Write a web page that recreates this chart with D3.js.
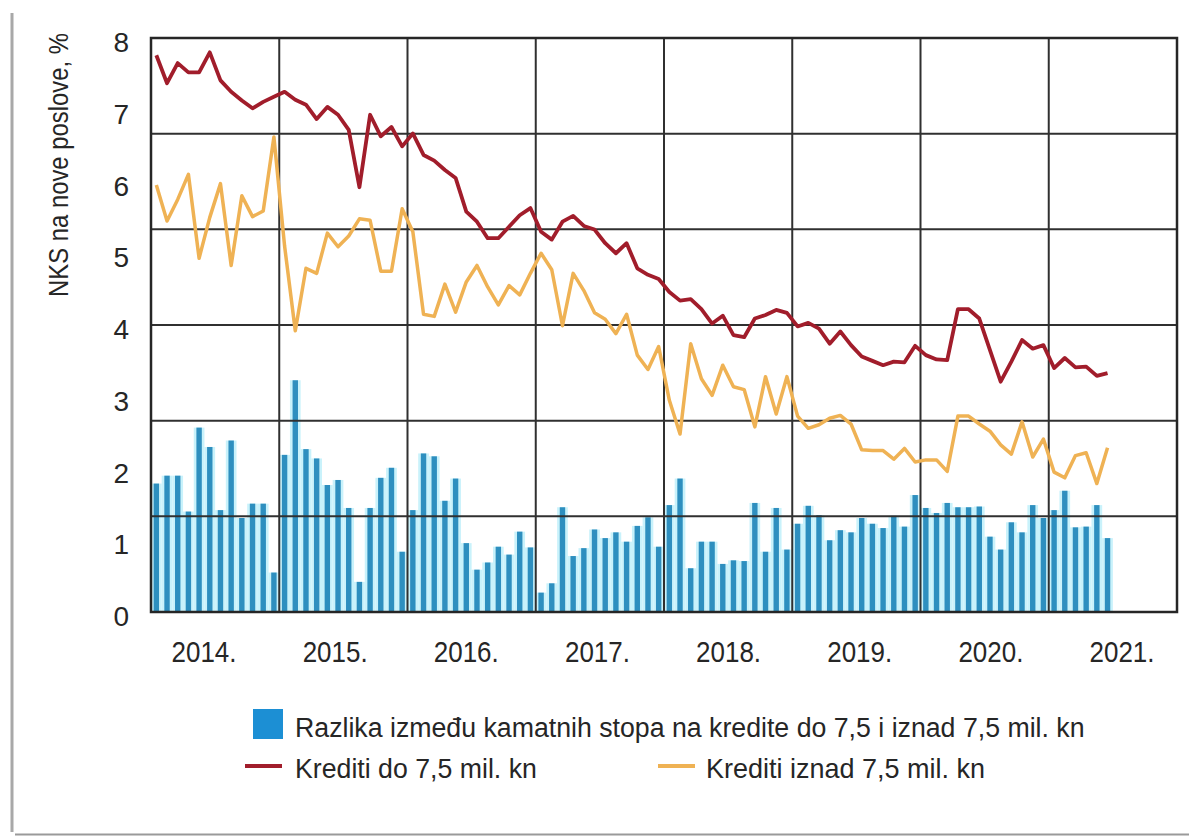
<!DOCTYPE html>
<html><head><meta charset="utf-8">
<script src="https://cdn.jsdelivr.net/npm/d3@7"></script>
<style>
body{margin:0;background:#fff}
svg{display:block}
text{font-family:"Liberation Sans",Arial,sans-serif;fill:#262626}
</style>
</head><body>
<svg id="chart" width="1189" height="836"></svg>
<script>
// ---- data ----
const years = ["2014.","2015.","2016.","2017.","2018.","2019.","2020.","2021."];
const yTicks = [0,1,2,3,4,5,6,7,8];
const yTitle = "NKS na nove poslove, %";
const legendLabels = [
  "Razlika između kamatnih stopa na kredite do 7,5 i iznad 7,5 mil. kn",
  "Krediti do 7,5 mil. kn",
  "Krediti iznad 7,5 mil. kn"
];
// monthly, Jan 2014 – Jun 2021
const razlika = [
 1.79,1.90,1.90,1.40,2.57,2.30,1.42,2.39,1.31,1.51,1.51,0.55,
 2.19,3.23,2.27,2.14,1.77,1.84,1.45,0.42,1.45,1.87,2.01,0.84,
 1.42,2.21,2.17,1.55,1.86,0.96,0.59,0.69,0.91,0.80,1.12,0.90,
 0.27,0.40,1.46,0.78,0.89,1.15,1.03,1.11,0.98,1.20,1.32,0.91,
 1.49,1.86,0.61,0.98,0.98,0.67,0.72,0.71,1.52,0.84,1.45,0.87,
 1.23,1.48,1.35,1.00,1.14,1.11,1.31,1.23,1.17,1.34,1.19,1.63,
 1.45,1.38,1.52,1.46,1.46,1.47,1.05,0.87,1.25,1.11,1.49,1.31,
 1.42,1.69,1.18,1.19,1.49,1.03
];
const kreditiDo = [
 7.76,7.37,7.65,7.52,7.52,7.80,7.41,7.25,7.13,7.02,7.11,7.18,
 7.25,7.14,7.07,6.87,7.04,6.93,6.72,5.92,6.93,6.63,6.76,6.49,
 6.67,6.37,6.29,6.16,6.05,5.58,5.44,5.21,5.21,5.37,5.53,5.63,
 5.30,5.19,5.44,5.52,5.38,5.33,5.14,5.00,5.14,4.79,4.70,4.64,
 4.46,4.34,4.36,4.22,4.02,4.13,3.86,3.83,4.09,4.14,4.21,4.17,
 3.98,4.03,3.95,3.74,3.91,3.72,3.56,3.50,3.44,3.49,3.48,3.71,
 3.58,3.52,3.51,4.22,4.22,4.09,3.65,3.21,3.49,3.79,3.67,3.72,
 3.40,3.54,3.41,3.42,3.29,3.33
];
const kreditiIznad = [
 5.95,5.45,5.75,6.10,4.93,5.50,5.97,4.83,5.80,5.51,5.59,6.62,
 5.10,3.92,4.79,4.72,5.28,5.09,5.24,5.48,5.46,4.75,4.75,5.62,
 5.30,4.15,4.12,4.57,4.18,4.60,4.83,4.53,4.28,4.55,4.42,4.72,
 5.00,4.77,3.99,4.72,4.48,4.17,4.08,3.88,4.15,3.58,3.38,3.70,
 2.95,2.48,3.74,3.25,3.02,3.44,3.14,3.10,2.58,3.28,2.76,3.28,
 2.73,2.56,2.61,2.70,2.74,2.62,2.26,2.25,2.25,2.13,2.28,2.09,
 2.12,2.12,1.96,2.73,2.73,2.62,2.52,2.33,2.20,2.65,2.16,2.41,
 1.95,1.87,2.18,2.22,1.79,2.29
];

// ---- layout ----
const L = 151, R = 1177, T = 38, B = 612;
const svg = d3.select("#chart");
const nMonths = years.length * 12;
const x = d3.scaleLinear().domain([0, nMonths]).range([L, R]);
const y = d3.scaleLinear().domain([0, 8]).range([B, T]);
const xLab = d3.scalePoint().domain(years).range([204, 1122]);
const bw = (x(1) - x(0));

// page frame lines
svg.append("line").attr("x1",12).attr("x2",12).attr("y1",13).attr("y2",832)
  .attr("stroke","#a8a8a8").attr("stroke-width",3);
svg.append("line").attr("x1",15).attr("x2",1189).attr("y1",834.5).attr("y2",834.5)
  .attr("stroke","#9a9a9a").attr("stroke-width",2);

// bars
const bars = svg.append("g");
bars.selectAll("rect.bg").data(razlika).join("rect").attr("class","bg")
  .attr("x",(d,i)=>x(i)).attr("width",bw)
  .attr("y",d=>y(d)).attr("height",d=>B-y(d)).attr("fill","#c9f2fb");
bars.selectAll("rect.fg").data(razlika).join("rect").attr("class","fg")
  .attr("x",(d,i)=>x(i+0.5)-2.7).attr("width",5.4)
  .attr("y",d=>y(d)).attr("height",d=>B-y(d)).attr("fill","#2e8fbf");

// gridlines
const grid = svg.append("g").attr("stroke","#303030").attr("stroke-width",2);
grid.selectAll("line.h").data(d3.range(1,6)).join("line").attr("class","h")
  .attr("x1",L).attr("x2",R).attr("y1",k=>y(k*8/6)).attr("y2",k=>y(k*8/6));
grid.selectAll("line.v").data(d3.range(1,years.length)).join("line").attr("class","v")
  .attr("y1",T).attr("y2",B).attr("x1",k=>x(k*12)).attr("x2",k=>x(k*12));

// lines
const lineGen = d3.line().x((d,i)=>x(i+0.5)).y(d=>y(d));
svg.append("path").datum(kreditiIznad).attr("d",lineGen).attr("fill","none")
  .attr("stroke","#efb254").attr("stroke-width",3.5).attr("stroke-linejoin","round");
svg.append("path").datum(kreditiDo).attr("d",lineGen).attr("fill","none")
  .attr("stroke","#a11d2b").attr("stroke-width",3.8).attr("stroke-linejoin","round");

// frame
svg.append("rect").attr("x",L).attr("y",T).attr("width",R-L).attr("height",B-T)
  .attr("fill","none").attr("stroke","#262626").attr("stroke-width",2.5);

// helper to fit text width
function fit(sel, target){
  sel.each(function(){
    const w = this.getComputedTextLength();
    const s = target / w;
    const tx = +this.getAttribute("data-x"), ty = +this.getAttribute("data-y");
    const rot = this.getAttribute("data-rot") || 0;
    this.setAttribute("transform",`translate(${tx},${ty}) rotate(${rot}) scale(${s},1)`);
  });
}

// y tick labels
svg.append("g").selectAll("text").data(yTicks).join("text")
  .attr("x",129).attr("y",d=>y(d)+14).attr("text-anchor","end")
  .attr("font-size",28).text(d=>d);

// x labels
svg.append("g").selectAll("text").data(years).join("text")
  .attr("text-anchor","middle").attr("font-size",29)
  .attr("data-x",d=>xLab(d)).attr("data-y",662).text(d=>d)
  .call(fit, 65);

// y title
svg.append("text").attr("text-anchor","middle").attr("font-size",28)
  .attr("data-x",68).attr("data-y",165).attr("data-rot",-90)
  .text(yTitle).call(fit, 264);

// legend
const lg = svg.append("g");
lg.append("rect").attr("x",253).attr("y",709).attr("width",30).attr("height",30).attr("fill","#1c8fd4");
lg.append("text").attr("font-size",27).attr("data-x",295).attr("data-y",737)
  .text(legendLabels[0]).call(fit, 790);
lg.append("line").attr("x1",245).attr("x2",282).attr("y1",766).attr("y2",766)
  .attr("stroke","#a11d2b").attr("stroke-width",3.8);
lg.append("text").attr("font-size",27).attr("data-x",295).attr("data-y",778)
  .text(legendLabels[1]).call(fit, 242);
lg.append("line").attr("x1",658).attr("x2",695).attr("y1",766).attr("y2",766)
  .attr("stroke","#efb254").attr("stroke-width",3.8);
lg.append("text").attr("font-size",27).attr("data-x",706).attr("data-y",778)
  .text(legendLabels[2]).call(fit, 279);
</script>
</body></html>
